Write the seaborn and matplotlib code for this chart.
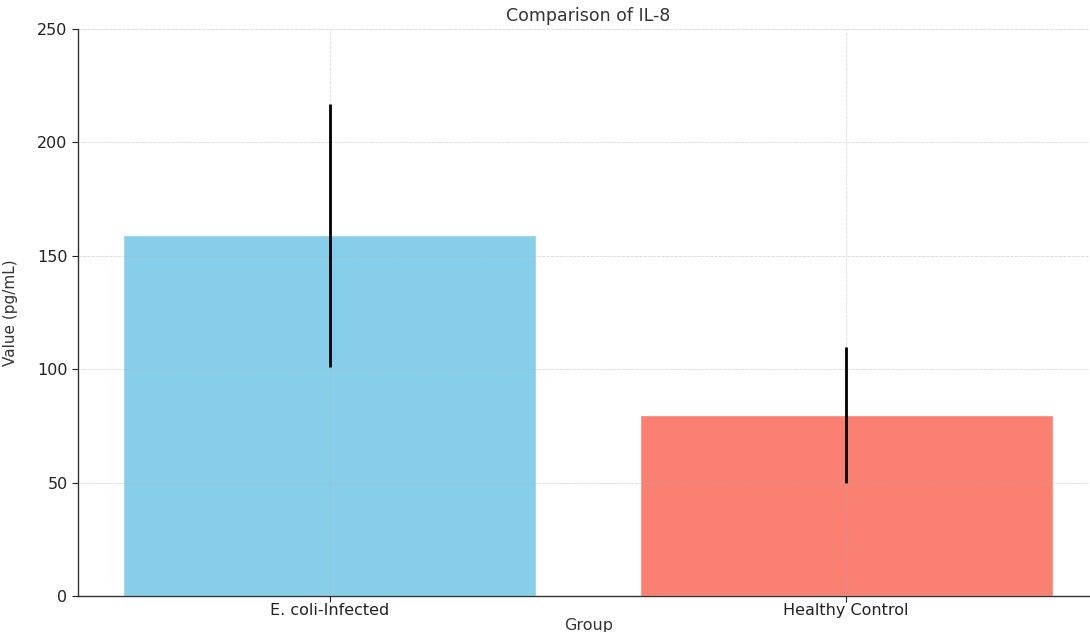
import matplotlib
matplotlib.use("Agg")
import matplotlib.pyplot as plt
import seaborn as sns
import pandas as pd

groups = ["E. coli-Infected", "Healthy Control"]
means = [159, 80]
errors = [58, 30]
colors = ["#87CEEB", "#FA8072"]

df = pd.DataFrame({"Group": groups, "Value": means})

sns.set_style("white")
plt.rcParams['font.family'] = ['DejaVu Sans']

fig = plt.figure(figsize=(10.9, 6.32), dpi=100)
ax = fig.add_axes([78/1090, 36/632, 1021/1090, 567/632])

sns.barplot(data=df, x="Group", y="Value", hue="Group", palette=colors,
            legend=False, ax=ax, width=0.8, saturation=1, errorbar=None)
ax.errorbar(x=range(len(groups)), y=means, yerr=errors, fmt="none",
            ecolor="black", elinewidth=2, capsize=0, zorder=4)

ax.set_ylim(0, 250)
ax.set_xlim(-0.488, 1.49)
ax.set_yticks([0, 50, 100, 150, 200, 250])
ax.set_axisbelow(False)
ax.grid(True, linestyle="--", color="#b0b0b0", linewidth=0.6, alpha=0.5, zorder=3)
for s in ["top", "right"]:
    ax.spines[s].set_visible(False)
for s in ["left", "bottom"]:
    ax.spines[s].set_color("#333333")
    ax.spines[s].set_linewidth(1.0)
ax.tick_params(axis="both", which="both", length=4, labelsize=11.5, colors="#222222",
               left=True, bottom=True)
ax.tick_params(axis="x", pad=1)
ax.set_title("Comparison of IL-8", fontsize=12.5, color="#333333", pad=6)
ax.set_xlabel("Group", fontsize=11.5, color="#333333", labelpad=0)
ax.set_ylabel("Value (pg/mL)", fontsize=11, color="#333333", labelpad=14)

fig.savefig("out.png", dpi=100)
